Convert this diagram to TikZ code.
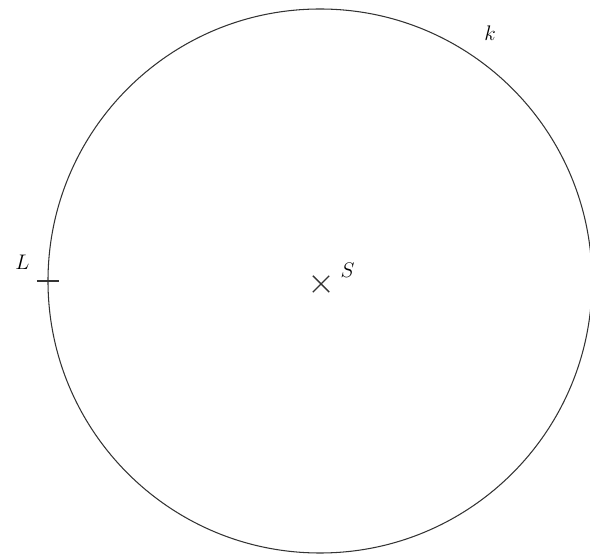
\documentclass[tikz,border=0pt]{standalone}
\usepackage{tikz}
\usetikzlibrary{shapes.misc, positioning, calc}

\begin{document}
\begin{tikzpicture}[
		mark cross/.style={cross out, draw=black!80, thick, minimum size=0.3cm, inner sep=0pt},
		lbl/.style={font=\fontsize{13}{15}\selectfont, inner sep=1pt}]
	
	\useasboundingbox (0,0) rectangle (11.8,11.2);
	
	% Kreis k mit Mittelpunkt S
	\node[mark cross] (S) at (6.42, 5.52) {};
	\draw[black!80, line width=0.6pt] (6.4, 5.58) circle (5.44);
	\coordinate (c) at (6.4, 5.58);
	
	% Punkt L auf dem Kreis
	\coordinate (L) at ($(c)+(180:5.44)$);
	\draw[black!80, line width=0.6pt] ([xshift=-0.22cm]L) -- ([xshift=0.22cm]L);
	
	% Beschriftungen
	\node[lbl] (Slbl) at (6.95, 5.8) {$S$};
	\node[lbl] (Llbl) at (0.45, 5.95) {$L$};
	\node[lbl] (klbl) at (9.8, 10.54) {$k$};
\end{tikzpicture}
\end{document}
